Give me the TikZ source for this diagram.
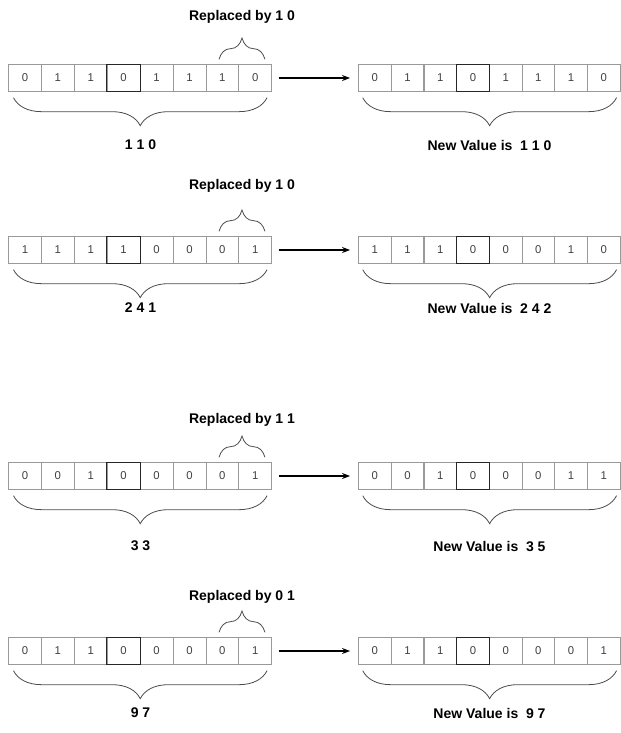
\documentclass[tikz,border=0pt]{standalone}
\usepackage{fontspec}
\setmainfont{Liberation Sans}
\usetikzlibrary{arrows.meta,decorations.pathreplacing,positioning}
\tikzset{
  bitcell/.style={draw=black!40, line width=0.5pt, minimum width=24.7pt,
    minimum height=20pt, inner sep=0pt, text=black!75,
    font=\fontsize{8.5}{9}\selectfont},
  pivot/.style={draw=black!85, line width=0.9pt},
  curly/.style={decorate, decoration={brace, amplitude=#1},
    draw=black!70, line width=0.6pt},
  caption/.style={font=\fontsize{10.5}{11}\selectfont\bfseries},
  >={Stealth[length=6pt,width=4.5pt]}
}

\begin{document}
\begin{tikzpicture}[x=0.75pt,y=-0.75pt]
\useasboundingbox (0,0) rectangle (621,733);
% one row per step: old bits -> new bits
\foreach \r/\yy/\ty/\ly/\old/\new/\rep/\val/\nval in {
    1/78/17/145/{0,1,1,0,1,1,1,0}/{0,1,1,0,1,1,1,0}/1 0/1 1 0/1 1 0,
    2/250/186/308/{1,1,1,1,0,0,0,1}/{1,1,1,0,0,0,1,0}/1 0/2 4 1/2 4 2,
    3/476/420/546/{0,0,1,0,0,0,0,1}/{0,0,1,0,0,0,1,1}/1 1/3 3/3 5,
    4/651/597/713/{0,1,1,0,0,0,0,1}/{0,1,1,0,0,0,0,1}/0 1/9 7/9 7}
{
    \foreach \b [count=\i] in \old
        \node[bitcell] (L\r-\i) at ({8.5+(\i-0.5)*32.9}, \yy) {\b};
    \foreach \b [count=\i] in \new
        \node[bitcell] (R\r-\i) at ({358.5+(\i-0.5)*32.7}, \yy) {\b};
    \draw[pivot] (L\r-4.north west) rectangle (L\r-4.south east);
    \draw[pivot] (R\r-4.north west) rectangle (R\r-4.south east);

    \draw[->, line width=0.8pt, shorten <=5pt, shorten >=6pt] (L\r-8) -- (R\r-1);

    % replaced pair
    \draw[curly=16pt] ([xshift=-2.5pt,yshift=3.75pt]L\r-7.north)
        -- ([xshift=7.3pt,yshift=3.75pt]L\r-8.north);
    \node[caption] (T\r) at (242, \ty) {Replaced by \rep};

    % whole values
    \draw[curly=21pt] ([xshift=-3.75pt,yshift=-4.5pt]L\r-8.south east)
        -- ([xshift=4pt,yshift=-4.5pt]L\r-1.south west);
    \draw[curly=21pt] ([xshift=-3pt,yshift=-4.5pt]R\r-8.south east)
        -- ([xshift=3.5pt,yshift=-4.5pt]R\r-1.south west);
    \node[caption] (V\r) at (140.5, \ly) {\val};
    \node[caption] (N\r) at (489.5, \ly) {New Value is~~\nval};
}
\end{tikzpicture}
\end{document}
